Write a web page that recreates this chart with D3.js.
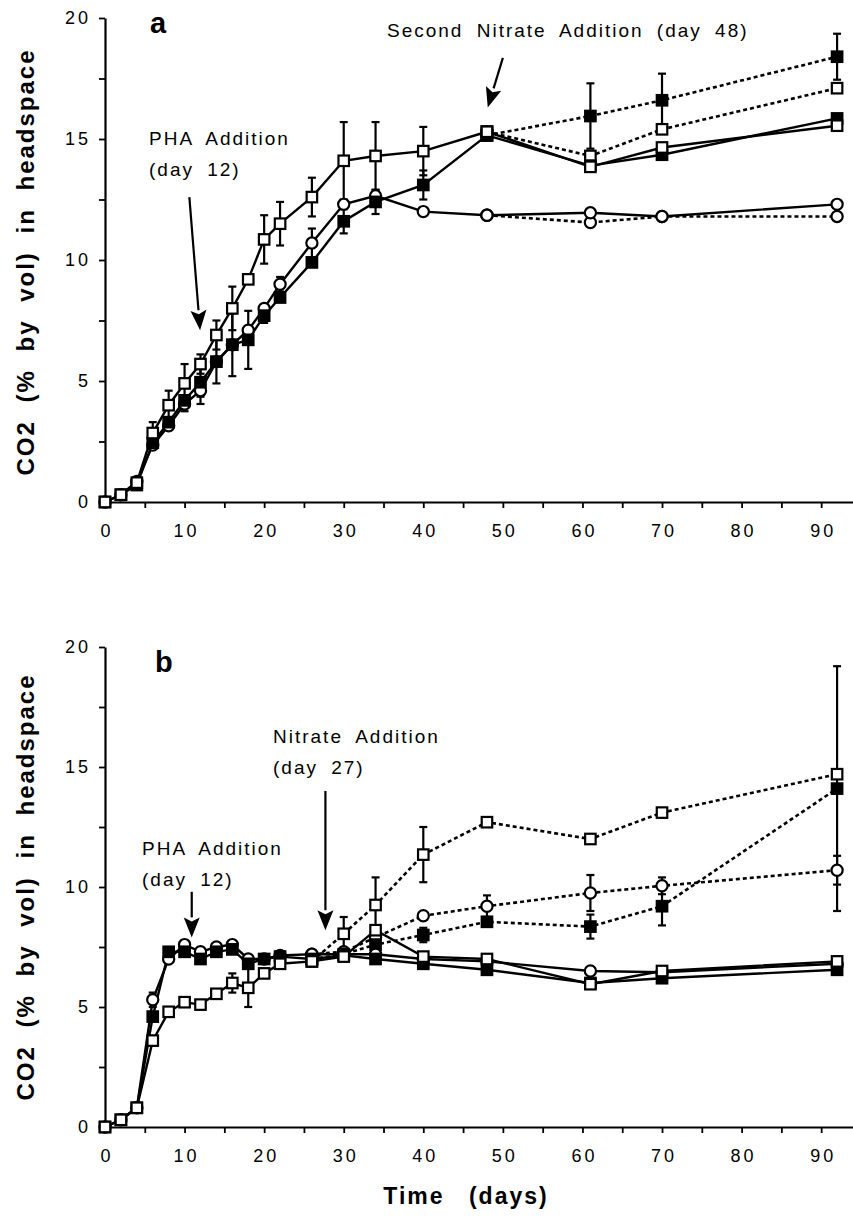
<!DOCTYPE html>
<html>
<head>
<meta charset="utf-8">
<script src="https://cdn.jsdelivr.net/npm/d3@7"></script>
<style>
  body { margin: 0; background: #fff; }
  svg { display: block; font-family: "Liberation Sans", Arial, Helvetica, sans-serif; }
</style>
</head>
<body>
<svg id="chart" width="853" height="1218"></svg>
<script>
// ---------- Panel a : CO2 in headspace (% by vol) ----------
const daysA = [0, 2, 4, 6, 8, 10, 12, 14, 16, 18, 20, 22, 26, 30, 34, 40, 48];
const aOpenSquare      = [0, 0.3, 0.8, 2.85, 4.0, 4.9, 5.7, 6.9, 8.0, 9.2, 10.85, 11.5, 12.6, 14.1, 14.3, 14.5, 15.3];
const aOpenSquareErr   = [0, 0, 0, 0.45, 0.6, 0.8, 0.4, 0.6, 0.9, 0, 1.0, 0.9, 0.8, 1.6, 1.4, 1.0, 0];
const aFilledSquare    = [0, 0.3, 0.7, 2.45, 3.3, 4.2, 4.95, 5.8, 6.5, 6.7, 7.7, 8.45, 9.9, 11.6, 12.4, 13.1, 15.15];
const aFilledSquareErr = [0, 0, 0, 0, 0, 0, 0.6, 0.9, 1.3, 1.2, 0.3, 0, 0, 0.5, 0.5, 0.6, 0];
const aOpenCircle      = [0, 0.3, 0.85, 2.35, 3.15, 4.05, 4.6, 5.8, 6.5, 7.1, 8.0, 9.0, 10.7, 12.3, 12.65, 12.0, 11.85];
const aOpenCircleErr   = [0, 0, 0, 0, 0, 0.3, 0.55, 0, 0, 0, 0, 0.3, 0.6, 0, 0, 0, 0];

// after the second nitrate addition (day 48)
const daysA2 = [48, 61, 70, 92];
const aOpenSquareCtl      = [15.3, 13.85, 14.65, 15.55];
const aFilledSquareCtl    = [15.15, 13.9, 14.35, 15.85];
const aOpenCircleCtl      = [11.85, 11.95, 11.8, 12.3];
const aOpenSquareNit      = [15.3, 14.3, 15.4, 17.1];
const aFilledSquareNit    = [15.15, 15.95, 16.6, 18.4];
const aFilledSquareNitErr = [0, 1.35, 1.1, 0.95];
const aOpenCircleNit      = [11.85, 11.55, 11.8, 11.8];

// ---------- Panel b ----------
const daysB = [0, 2, 4, 6, 8, 10, 12, 14, 16, 18, 20, 22, 26, 30, 34, 40, 48, 61, 70, 92];
const bOpenCircle      = [0, 0.3, 0.8, 5.3, 7.0, 7.6, 7.3, 7.5, 7.6, 7.0, 7.0, 7.15, 7.2, 7.2, 7.2, 7.0, 6.9, 6.5, 6.45, 6.8];
const bOpenCircleErr   = [0, 0, 0, 0.3, 0, 0, 0, 0, 0, 0, 0, 0, 0, 0, 0, 0, 0, 0, 0, 0];
const bFilledSquare    = [0, 0.3, 0.8, 4.6, 7.3, 7.3, 7.0, 7.3, 7.4, 6.8, 7.0, 7.1, 7.0, 7.15, 7.0, 6.8, 6.55, 6.0, 6.2, 6.55];
const bOpenSquare      = [0, 0.3, 0.8, 3.6, 4.8, 5.2, 5.1, 5.55, 6.0, 5.8, 6.4, 6.8, 6.9, 7.1, 8.2, 7.1, 7.0, 5.95, 6.5, 6.9];
const bOpenSquareErr   = [0, 0, 0, 0, 0, 0, 0, 0, 0.4, 0.8, 0, 0, 0, 0, 0, 0, 0, 0, 0, 0];

// after nitrate addition (day 27)
const daysB2 = [26, 30, 34, 40, 48, 61, 70, 92];
const bOpenSquareNit      = [6.9, 8.05, 9.25, 11.35, 12.7, 12.0, 13.1, 14.7];
const bOpenSquareNitErr   = [0, 0.7, 1.15, 1.15, 0, 0, 0, 0];
const bOpenCircleNit      = [7.2, 7.3, 7.9, 8.8, 9.2, 9.75, 10.05, 10.7];
const bOpenCircleNitErr   = [0, 0, 0, 0, 0.45, 0.75, 0.35, 0.6];
const bFilledSquareNit    = [7.0, 7.2, 7.6, 8.0, 8.55, 8.35, 9.2, 14.1];
const bFilledSquareNitErr = [0, 0, 0, 0.3, 0, 0.5, 0.8, 5.1];

// ---------- axis ticks ----------
const xTicks      = [0, 5, 10, 15, 20, 25, 30, 35, 40, 45, 50, 55, 60, 65, 70, 75, 80, 85, 90];
const xTickLabels = [0, 10, 20, 30, 40, 50, 60, 70, 80, 90];
const yTicks      = [0, 2.5, 5, 7.5, 10, 12.5, 15, 17.5, 20];
const yTickLabels = [0, 5, 10, 15, 20];

const svg = d3.select("#chart");
const x = d3.scaleLinear().domain([0, 94]).range([105, 853]);
const yA = d3.scaleLinear().domain([0, 20]).range([502, 18]);
const yB = d3.scaleLinear().domain([0, 20]).range([1127, 647]);

function zip(days, vals, errs) {
  return days.map((d, i) => ({ day: d, v: vals[i], e: errs ? errs[i] : 0 }));
}

function drawAxes(y) {
  const xAxis = d3.axisBottom(x)
    .tickValues(xTicks)
    .tickFormat(d => xTickLabels.includes(d) ? d : "")
    .tickSize(6).tickSizeOuter(0).tickPadding(16);
  const gx = svg.append("g").attr("transform", `translate(0,${y(0)})`).call(xAxis);
  const yAxis = d3.axisLeft(y)
    .tickValues(yTicks)
    .tickFormat(d => yTickLabels.includes(d) ? d : "")
    .tickSize(6).tickSizeOuter(0).tickPadding(8);
  const gy = svg.append("g").attr("transform", `translate(${x(0)},0)`).call(yAxis);
  [gx, gy].forEach(g => {
    g.select(".domain").attr("stroke", "#000").attr("stroke-width", 2.2);
    g.selectAll(".tick line").attr("stroke", "#000").attr("stroke-width", 1.8);
    g.selectAll(".tick text")
      .attr("fill", "#000")
      .style("font-size", "18px")
      .style("letter-spacing", "3px")
      .style("font-family", '"Liberation Sans", Arial, sans-serif');
  });
  gx.selectAll(".tick text").attr("dx", "1.5px");
}

function drawSeries(y, pts, marker, dashed, layer) {
  const line = d3.line().x(d => x(d.day)).y(d => y(d.v));
  layer.lines.append("path")
    .datum(pts)
    .attr("d", line)
    .attr("fill", "none")
    .attr("stroke", "#000")
    .attr("stroke-width", dashed ? 2.6 : 2.4)
    .attr("stroke-dasharray", dashed ? "4,3" : null);

  const withErr = pts.filter(d => d.e > 0);
  const eb = layer.errs.selectAll(null).data(withErr).enter().append("g");
  eb.append("line")
    .attr("x1", d => x(d.day)).attr("x2", d => x(d.day))
    .attr("y1", d => y(d.v - d.e)).attr("y2", d => y(d.v + d.e))
    .attr("stroke", "#000").attr("stroke-width", 2.2);
  eb.append("line")
    .attr("x1", d => x(d.day) - 4).attr("x2", d => x(d.day) + 4)
    .attr("y1", d => y(d.v + d.e)).attr("y2", d => y(d.v + d.e))
    .attr("stroke", "#000").attr("stroke-width", 2.2);
  eb.append("line")
    .attr("x1", d => x(d.day) - 4).attr("x2", d => x(d.day) + 4)
    .attr("y1", d => y(d.v - d.e)).attr("y2", d => y(d.v - d.e))
    .attr("stroke", "#000").attr("stroke-width", 2.2);

  const m = layer.marks.selectAll(null).data(pts).enter();
  if (marker === "circle") {
    m.append("circle")
      .attr("cx", d => x(d.day)).attr("cy", d => y(d.v)).attr("r", 5.6)
      .attr("fill", "#fff").attr("stroke", "#000").attr("stroke-width", 2.2);
  } else {
    const s = 10.5;
    m.append("rect")
      .attr("x", d => x(d.day) - s / 2).attr("y", d => y(d.v) - s / 2)
      .attr("width", s).attr("height", s)
      .attr("fill", marker === "filled" ? "#000" : "#fff")
      .attr("stroke", "#000").attr("stroke-width", 2.2);
  }
}

function makeLayer() {
  return {
    lines: svg.append("g"),
    errs: svg.append("g"),
    marks: svg.append("g")
  };
}

function arrow(x1, y1, x2, y2) {
  const g = svg.append("g");
  const ang = Math.atan2(y2 - y1, x2 - x1);
  const L = 20, W = 8;
  const bx = x2 - L * Math.cos(ang), by = y2 - L * Math.sin(ang);
  g.append("line").attr("x1", x1).attr("y1", y1).attr("x2", bx).attr("y2", by)
    .attr("stroke", "#000").attr("stroke-width", 2.2);
  const px = -Math.sin(ang) * W, py = Math.cos(ang) * W;
  g.append("path")
    .attr("d", `M${x2},${y2}L${bx + px},${by + py}L${bx + 4 * Math.cos(ang)},${by + 4 * Math.sin(ang)}L${bx - px},${by - py}Z`)
    .attr("fill", "#000");
}

function note(px, py, lines) {
  const t = svg.append("text")
    .attr("x", px).attr("y", py)
    .style("font-size", "19px")
    .style("letter-spacing", "2px")
    .style("word-spacing", "6px")
    .attr("fill", "#000");
  lines.forEach((s, i) => {
    t.append("tspan").attr("x", px).attr("dy", i === 0 ? 0 : 31).text(s);
  });
}

function yTitle(cy) {
  svg.append("text")
    .attr("transform", `translate(34,${cy}) rotate(-90)`)
    .attr("text-anchor", "middle")
    .style("font-size", "24px")
    .style("font-weight", "bold")
    .style("letter-spacing", "2px")
    .style("word-spacing", "9px")
    .attr("fill", "#000")
    .text("CO2 (% by vol) in headspace");
}

// ---------- panel a ----------
drawAxes(yA);
const layA = makeLayer();
drawSeries(yA, zip(daysA2, aOpenCircleNit), "circle", true, layA);
drawSeries(yA, zip(daysA2, aOpenSquareNit), "open", true, layA);
drawSeries(yA, zip(daysA2, aFilledSquareNit, aFilledSquareNitErr), "filled", true, layA);
drawSeries(yA, zip(daysA, aOpenCircle, aOpenCircleErr), "circle", false, layA);
drawSeries(yA, zip(daysA2, aOpenCircleCtl), "circle", false, layA);
drawSeries(yA, zip(daysA, aFilledSquare, aFilledSquareErr), "filled", false, layA);
drawSeries(yA, zip(daysA2, aFilledSquareCtl), "filled", false, layA);
drawSeries(yA, zip(daysA, aOpenSquare, aOpenSquareErr), "open", false, layA);
drawSeries(yA, zip(daysA2, aOpenSquareCtl), "open", false, layA);

svg.append("text").attr("x", 150).attr("y", 33)
  .style("font-size", "29px").style("font-weight", "bold").text("a");
note(149, 145, ["PHA Addition", "(day 12)"]);
arrow(x(10.6), yA(12.6), x(11.95), yA(7.1));
note(387, 37, ["Second Nitrate Addition (day 48)"]);
arrow(x(50.0), yA(18.35), x(48.1), yA(16.3));
yTitle(262);

// ---------- panel b ----------
drawAxes(yB);
const layB = makeLayer();
drawSeries(yB, zip(daysB2, bOpenCircleNit, bOpenCircleNitErr), "circle", true, layB);
drawSeries(yB, zip(daysB2, bFilledSquareNit, bFilledSquareNitErr), "filled", true, layB);
drawSeries(yB, zip(daysB2, bOpenSquareNit, bOpenSquareNitErr), "open", true, layB);
drawSeries(yB, zip(daysB, bOpenCircle, bOpenCircleErr), "circle", false, layB);
drawSeries(yB, zip(daysB, bFilledSquare), "filled", false, layB);
drawSeries(yB, zip(daysB, bOpenSquare, bOpenSquareErr), "open", false, layB);

svg.append("text").attr("x", 155).attr("y", 672)
  .style("font-size", "29px").style("font-weight", "bold").text("b");
note(142, 855, ["PHA Addition", "(day 12)"]);
arrow(x(10.9), yB(9.8), x(10.9), yB(7.9));
note(273, 743, ["Nitrate Addition", "(day 27)"]);
arrow(x(27.7), yB(14.0), x(27.7), yB(8.2));
yTitle(887);

svg.append("text")
  .attr("x", 466).attr("y", 1204)
  .attr("text-anchor", "middle")
  .style("font-size", "23px")
  .style("font-weight", "bold")
  .style("letter-spacing", "2px")
  .style("word-spacing", "16px")
  .text("Time (days)");
</script>
</body>
</html>
